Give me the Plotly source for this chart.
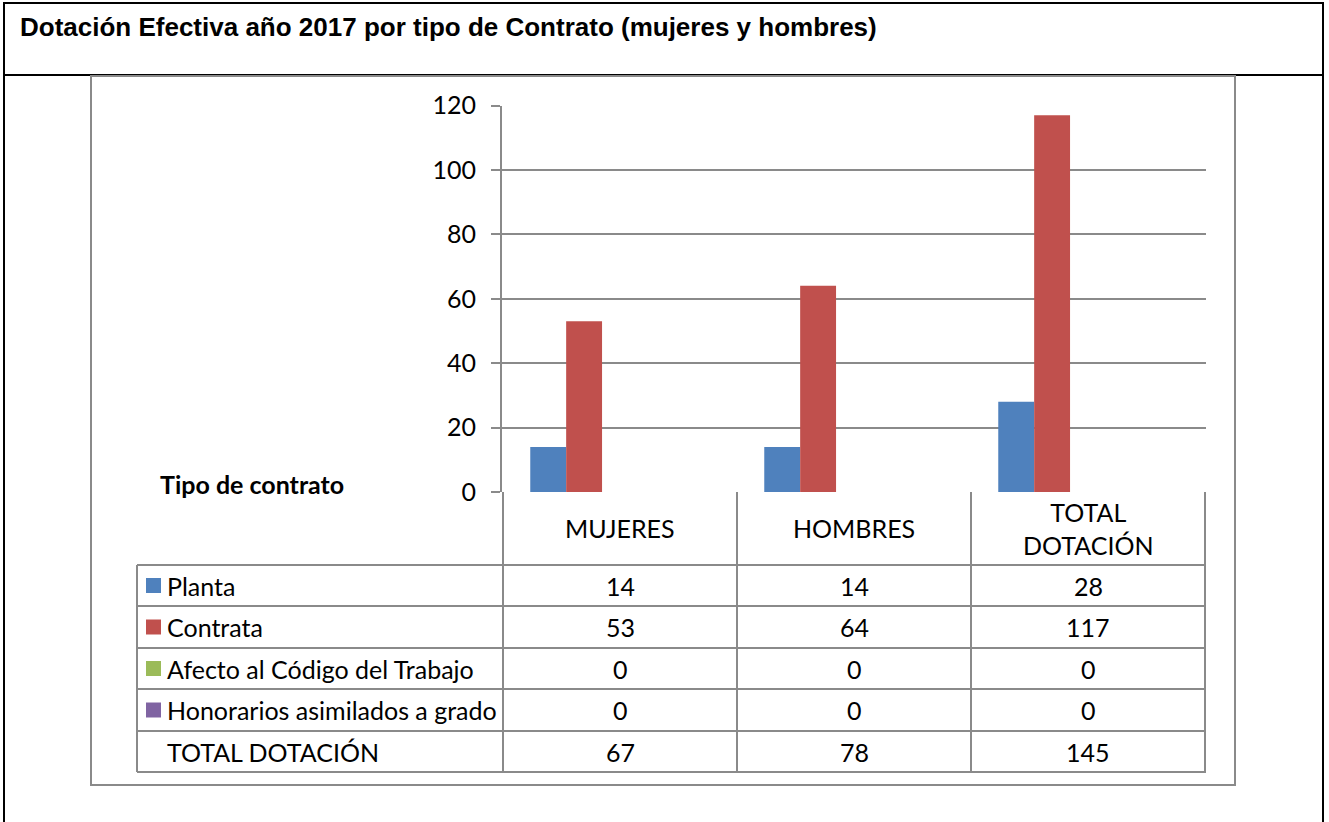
import plotly.graph_objects as go

W, H = 1329, 822

categories = ["MUJERES", "HOMBRES", "TOTAL DOTACIÓN"]
category_labels = ["MUJERES", "HOMBRES", "TOTAL<br>DOTACIÓN"]
series_names = ["Planta", "Contrata", "Afecto al Código del Trabajo",
                "Honorarios asimilados a grado", "TOTAL DOTACIÓN"]
planta = [14, 14, 28]
contrata = [53, 64, 117]
afecto = [0, 0, 0]
honorarios = [0, 0, 0]
total = [67, 78, 145]
series_values = [planta, contrata, afecto, honorarios, total]
series_colors = ["#4F81BD", "#C0504D", "#9BBB59", "#8064A2", "rgba(0,0,0,0)"]
y_ticks = [0, 20, 40, 60, 80, 100, 120]

title_text = "Dotación Efectiva año 2017 por tipo de Contrato (mujeres y hombres)"
table_title = "Tipo de contrato"

FONT = "Lato"
FS = 25
GRID = "#8a8a8a"
LINE = "#8a8a8a"


def xp(px):
    return px / W


def yp(py):
    return 1 - py / H


fig = go.Figure()
for name, vals, col in zip(series_names, series_values, series_colors):
    fig.add_trace(go.Bar(x=categories, y=vals, name=name,
                         marker=dict(color=col, line=dict(width=0)),
                         showlegend=False,
                         hoverinfo="skip" if name == "TOTAL DOTACIÓN" else None))

shapes = []
annotations = []

# outer black frame and title band
shapes.append(dict(type="rect", xref="paper", yref="paper",
                   x0=xp(4), x1=xp(1323), y0=yp(840), y1=yp(3),
                   line=dict(color="black", width=2)))
shapes.append(dict(type="line", xref="paper", yref="paper",
                   x0=xp(4), x1=xp(1323), y0=yp(75), y1=yp(75),
                   line=dict(color="black", width=2)))
# chart area frame
shapes.append(dict(type="rect", xref="paper", yref="paper",
                   x0=xp(91), x1=xp(1235), y0=yp(785), y1=yp(76),
                   line=dict(color=LINE, width=2)))

# data table geometry
row_edges = [565, 606, 648, 689, 731, 772]
header_top = 492
tbl_left = 137

for y in row_edges:
    shapes.append(dict(type="line", xref="paper", yref="paper",
                       x0=xp(tbl_left), x1=xp(1206), y0=yp(y), y1=yp(y),
                       line=dict(color=LINE, width=2)))
shapes.append(dict(type="line", xref="paper", yref="paper",
                   x0=xp(tbl_left), x1=xp(tbl_left), y0=yp(565), y1=yp(772),
                   line=dict(color=LINE, width=2)))
for xb in [-0.5, 0.5, 1.5, 2.5]:
    shapes.append(dict(type="line", xref="x", yref="paper",
                       x0=xb, x1=xb, y0=yp(header_top), y1=yp(772),
                       line=dict(color=LINE, width=2)))

# header category labels
for i, lab in enumerate(category_labels):
    annotations.append(dict(x=i, y=yp(528), xref="x", yref="paper",
                            text=lab, showarrow=False,
                            font=dict(family=FONT, size=FS, color="black"),
                            xanchor="center", yanchor="middle", align="center"))

# row labels, keys and values
row_centers = [(row_edges[k] + row_edges[k + 1]) / 2 for k in range(5)]
for k, (name, vals, col) in enumerate(zip(series_names, series_values, series_colors)):
    yc = row_centers[k]
    if k < 4:
        shapes.append(dict(type="rect", xref="paper", yref="paper",
                           x0=xp(146), x1=xp(161), y0=yp(yc + 7.5), y1=yp(yc - 7.5),
                           fillcolor=col, line=dict(width=0)))
    annotations.append(dict(x=xp(165), y=yp(yc), xref="paper", yref="paper",
                            text=name, showarrow=False,
                            font=dict(family=FONT, size=FS, color="black"),
                            xanchor="left", yanchor="middle"))
    for i, v in enumerate(vals):
        annotations.append(dict(x=i, y=yp(yc), xref="x", yref="paper",
                                text=str(v), showarrow=False,
                                font=dict(family=FONT, size=FS, color="black"),
                                xanchor="center", yanchor="middle"))

# titles
annotations.append(dict(x=xp(18), y=yp(27), xref="paper", yref="paper",
                        text="<b>" + title_text + "</b>", showarrow=False,
                        font=dict(family="Liberation Sans", size=26, color="black"),
                        xanchor="left", yanchor="middle"))
annotations.append(dict(x=xp(158), y=yp(484), xref="paper", yref="paper",
                        text="<b>" + table_title + "</b>", showarrow=False,
                        font=dict(family=FONT, size=FS, color="black"),
                        xanchor="left", yanchor="middle"))

fig.update_layout(
    width=W, height=H,
    margin=dict(l=0, r=0, t=0, b=0, pad=0, autoexpand=False),
    paper_bgcolor="white", plot_bgcolor="white",
    barmode="group", bargap=0.233, bargroupgap=0,
    shapes=shapes, annotations=annotations,
    xaxis=dict(domain=[xp(502), xp(1206)], showticklabels=False,
               showgrid=False, zeroline=False, showline=False, ticks="",
               fixedrange=True, automargin=False),
    yaxis=dict(domain=[yp(492), yp(105.5)], range=[0, 120],
               tickvals=y_ticks, ticktext=[str(t) for t in y_ticks],
               showgrid=True, gridcolor=GRID, gridwidth=1.5,
               zeroline=False, showline=True, linecolor=LINE, linewidth=2,
               ticks="outside", ticklen=9, tickcolor=GRID, tickwidth=1.5,
               ticklabelstandoff=10,
               tickfont=dict(family=FONT, size=FS, color="black"),
               fixedrange=True, automargin=False),
)

fig.write_html("out.html",
               config={"displayModeBar": False},
               post_script="document.body.style.margin='0';document.body.style.overflow='hidden';")
